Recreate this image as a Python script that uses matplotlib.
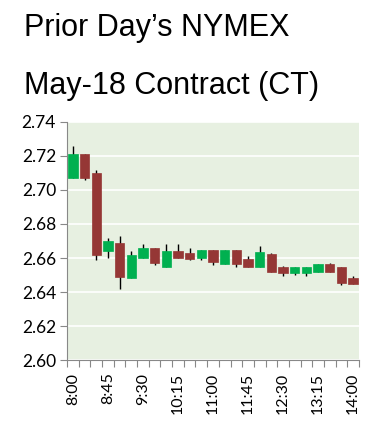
import matplotlib
matplotlib.use("Agg")
import matplotlib.pyplot as plt
import numpy as np

# 15-minute candles, prior day NYMEX May-18 contract
times = ["8:00", "8:15", "8:30", "8:45", "9:00", "9:15", "9:30", "9:45",
         "10:00", "10:15", "10:30", "10:45", "11:00", "11:15", "11:30", "11:45",
         "12:00", "12:15", "12:30", "12:45", "13:00", "13:15", "13:30", "13:45", "14:00"]
opens = [2.707, 2.721, 2.710, 2.664, 2.669, 2.648, 2.660, 2.666,
         2.655, 2.664, 2.663, 2.660, 2.6645, 2.6565, 2.6645, 2.6595,
         2.6545, 2.6625, 2.655, 2.651, 2.651, 2.652, 2.6565, 2.655, 2.6485]
highs = [2.726, 2.721, 2.712, 2.672, 2.673, 2.664, 2.668, 2.666,
         2.668, 2.668, 2.666, 2.665, 2.665, 2.6645, 2.6645, 2.661,
         2.667, 2.663, 2.6555, 2.655, 2.655, 2.6565, 2.657, 2.655, 2.6495]
lows = [2.707, 2.706, 2.659, 2.660, 2.642, 2.648, 2.660, 2.656,
        2.655, 2.660, 2.659, 2.659, 2.656, 2.6565, 2.655, 2.6545,
        2.6545, 2.652, 2.6495, 2.650, 2.6495, 2.652, 2.652, 2.644, 2.6445]
closes = [2.721, 2.707, 2.662, 2.670, 2.649, 2.662, 2.666, 2.657,
          2.664, 2.660, 2.6595, 2.6645, 2.6575, 2.6645, 2.6565, 2.6545,
          2.6635, 2.652, 2.651, 2.655, 2.655, 2.6565, 2.652, 2.6455, 2.645]
yticks = [2.60, 2.62, 2.64, 2.66, 2.68, 2.70, 2.72, 2.74]
label_every = 3

up_col = "#00b050"
down_col = "#953735"

fig = plt.figure(figsize=(3.75, 4.37), dpi=100)
ax = fig.add_axes([0.179, 0.176, 0.778, 0.545])
ax.set_facecolor("#e7f0e1")

x = np.arange(len(times))
o = np.array(opens)
c = np.array(closes)
cols = [up_col if cc >= oo else down_col for oo, cc in zip(o, c)]

ax.vlines(x, lows, highs, color="black", linewidth=1.0, zorder=2)
ax.bar(x, np.abs(c - o), bottom=np.minimum(o, c), width=0.78,
       color=cols, edgecolor=cols, linewidth=0.5, zorder=3)

ax.set_ylim(2.60, 2.74)
ax.set_xlim(-0.5, len(times) - 0.5)
ax.set_yticks(yticks)
ax.set_yticklabels(["%.2f" % v for v in yticks])
ax.yaxis.grid(True, color="white", linewidth=1.2)
ax.set_axisbelow(True)

# boundary ticks, labels at candle centres
ax.set_xticks(np.arange(-0.5, len(times), 1.0))
ax.set_xticklabels([])
ax.set_xticks(x[::label_every], minor=True)
ax.set_xticklabels(times[::label_every], minor=True, rotation=90,
                   family="Lato", fontsize=11.5)
ax.tick_params(axis="x", which="major", length=5, color="#888888", direction="out")
ax.tick_params(axis="x", which="minor", length=0, pad=9)
ax.tick_params(axis="y", length=5, color="#888888", labelsize=12.5, pad=3)
for lab in ax.get_yticklabels():
    lab.set_family("Lato")

for s in ["top", "right"]:
    ax.spines[s].set_visible(False)
ax.spines["left"].set_color("#888888")
ax.spines["bottom"].set_color("#888888")

fig.text(0.064, 1 - 36 / 437, "Prior Day\u2019s NYMEX", fontsize=22,
         family="Liberation Sans", va="baseline", ha="left")
fig.text(0.064, 1 - 94 / 437, "May-18 Contract (CT)", fontsize=22,
         family="Liberation Sans", va="baseline", ha="left")

fig.savefig("out.png", dpi=100)
